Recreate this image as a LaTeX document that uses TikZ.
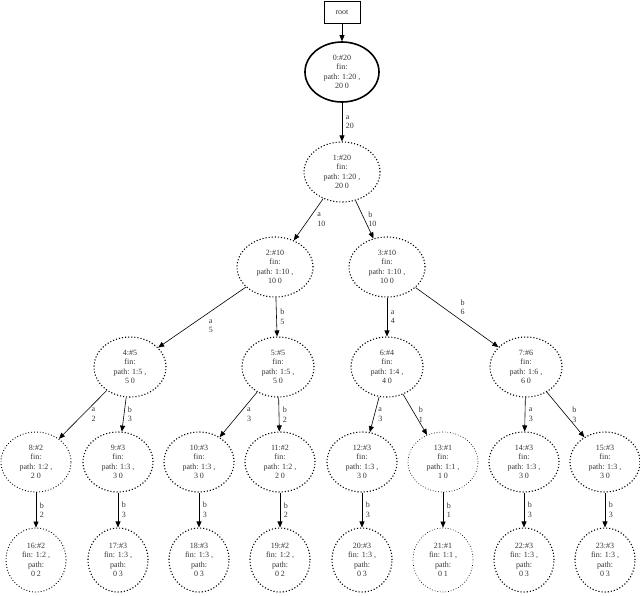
\documentclass[tikz,border=0pt]{standalone}
\usepackage{fontspec}
\setmainfont{Liberation Serif}
\usetikzlibrary{shapes.geometric,arrows.meta}
\begin{document}
\begin{tikzpicture}[x=1pt,y=-1pt,
  every node/.style={font=\fontsize{8}{9.5}\selectfont, text=black!80},
  st/.style={ellipse,draw,dotted,line width=1.1pt,minimum width=76pt,minimum height=60pt,inner sep=0pt,align=center},
  lf/.style={st,minimum width=60pt,minimum height=64pt},
  ar/.style={-{Triangle[length=6pt,width=5pt]},line width=0.6pt},
  el/.style={right,align=left,inner sep=2pt,xshift=1.5pt},
  eld/.style={el,xshift=5pt}]
\useasboundingbox (0,0) rectangle (640,595);
\node[draw,rectangle,minimum width=36pt,minimum height=22pt,line width=0.6pt] (r) at (342,12) {root};
\node[st,solid,line width=1.6pt,minimum width=74pt] (n0) at (342,72) {0:\#20\\fin:\\path: 1:20 ,\\20 0};
\node[st] (n1) at (342,172) {1:\#20\\fin:\\path: 1:20 ,\\20 0};
\node[st] (n2) at (275,267) {2:\#10\\fin:\\path: 1:10 ,\\10 0};
\node[st] (n3) at (387,267) {3:\#10\\fin:\\path: 1:10 ,\\10 0};
\node[st,minimum width=72pt] (n4) at (130,367) {4:\#5\\fin:\\path: 1:5 ,\\5 0};
\node[st,minimum width=72pt] (n5) at (278,367) {5:\#5\\fin:\\path: 1:5 ,\\5 0};
\node[st,minimum width=72pt] (n6) at (387,367) {6:\#4\\fin:\\path: 1:4 ,\\4 0};
\node[st,minimum width=72pt] (n7) at (526,367) {7:\#6\\fin:\\path: 1:6 ,\\6 0};
\node[st,minimum width=70pt,line width=0.9pt] (n8) at (36,462) {8:\#2\\fin:\\path: 1:2 ,\\2 0};
\node[st,minimum width=70pt] (n9) at (118,462) {9:\#3\\fin:\\path: 1:3 ,\\3 0};
\node[st,minimum width=70pt] (n10) at (199,462) {10:\#3\\fin:\\path: 1:3 ,\\3 0};
\node[st,minimum width=70pt] (n11) at (280,462) {11:\#2\\fin:\\path: 1:2 ,\\2 0};
\node[st,minimum width=70pt] (n12) at (362,462) {12:\#3\\fin:\\path: 1:3 ,\\3 0};
\node[st,minimum width=70pt,line width=0.7pt] (n13) at (443,462) {13:\#1\\fin:\\path: 1:1 ,\\1 0};
\node[st,minimum width=70pt] (n14) at (524,462) {14:\#3\\fin:\\path: 1:3 ,\\3 0};
\node[st,minimum width=70pt] (n15) at (605,462) {15:\#3\\fin:\\path: 1:3 ,\\3 0};
\node[lf,line width=0.9pt] (n16) at (36,560) {16:\#2\\fin: 1:2 ,\\path:\\0 2};
\node[lf] (n17) at (118,560) {17:\#3\\fin: 1:3 ,\\path:\\0 3};
\node[lf] (n18) at (199,560) {18:\#3\\fin: 1:3 ,\\path:\\0 3};
\node[lf] (n19) at (280,560) {19:\#2\\fin: 1:2 ,\\path:\\0 2};
\node[lf] (n20) at (362,560) {20:\#3\\fin: 1:3 ,\\path:\\0 3};
\node[lf,line width=0.7pt] (n21) at (443,560) {21:\#1\\fin: 1:1 ,\\path:\\0 1};
\node[lf] (n22) at (524,560) {22:\#3\\fin: 1:3 ,\\path:\\0 3};
\node[lf] (n23) at (605,560) {23:\#3\\fin: 1:3 ,\\path:\\0 3};
\draw[ar] (r) -- (n0);
\draw[ar] (n0) -- node[el]{a\\20} (n1);
\draw[ar] (n1) -- node[eld]{a\\10} (n2);
\draw[ar] (n1) -- node[el]{b\\10} (n3);
\draw[ar] (n2) -- node[el,below right=0pt,xshift=3pt]{a\\5} (n4);
\draw[ar] (n2) -- node[el]{b\\5} (n5);
\draw[ar] (n3) -- node[el]{a\\4} (n6);
\draw[ar] (n3) -- node[el,above right=0pt]{b\\6} (n7);
\draw[ar] (n4) -- node[eld]{a\\2} (n8);
\draw[ar] (n4) -- node[el]{b\\3} (n9);
\draw[ar] (n5) -- node[eld]{a\\3} (n10);
\draw[ar] (n5) -- node[el]{b\\2} (n11);
\draw[ar] (n6) -- node[el]{a\\3} (n12);
\draw[ar] (n6) -- node[el]{b\\1} (n13);
\draw[ar] (n7) -- node[el]{a\\3} (n14);
\draw[ar] (n7) -- node[el,xshift=3pt]{b\\3} (n15);
\draw[ar] (n8) -- node[el]{b\\2} (n16);
\draw[ar] (n9) -- node[el]{b\\3} (n17);
\draw[ar] (n10) -- node[el]{b\\3} (n18);
\draw[ar] (n11) -- node[el]{b\\2} (n19);
\draw[ar] (n12) -- node[el]{b\\3} (n20);
\draw[ar] (n13) -- node[el]{b\\1} (n21);
\draw[ar] (n14) -- node[el]{b\\3} (n22);
\draw[ar] (n15) -- node[el]{b\\3} (n23);
\end{tikzpicture}
\end{document}
